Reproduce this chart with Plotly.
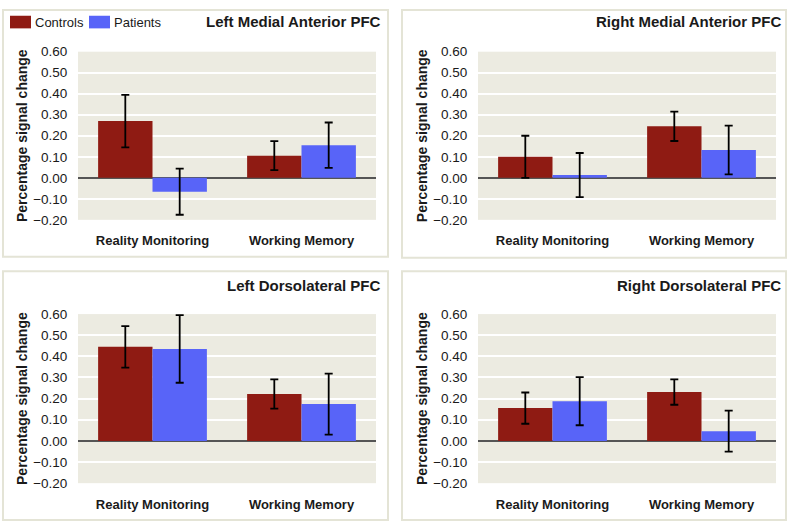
import plotly.graph_objects as go

W, H = 790, 531

categories = ["Reality Monitoring", "Working Memory"]
groups = ["Controls", "Patients"]
panel_titles = ["Left Medial Anterior PFC", "Right Medial Anterior PFC",
                "Left Dorsolateral PFC", "Right Dorsolateral PFC"]

controls_vals = [[0.27, 0.105], [0.10, 0.245], [0.445, 0.222], [0.155, 0.231]]
controls_err = [[0.125, 0.069], [0.10, 0.07], [0.098, 0.069], [0.074, 0.06]]
patients_vals = [[-0.066, 0.155], [0.013, 0.132], [0.435, 0.174], [0.188, 0.046]]
patients_err = [[0.11, 0.108], [0.105, 0.116], [0.16, 0.144], [0.114, 0.097]]

tick_vals = [-0.2, -0.1, 0.0, 0.1, 0.2, 0.3, 0.4, 0.5, 0.6]
y_title = "Percentage signal change"

ctrl_color = "#8f1b13"
pat_color = "#5864f8"
font_family = "Liberation Sans, Arial, sans-serif"
txt = "#1a1a1a"

def px(x):
    return x / W

def py(y):
    return 1 - y / H

# plot-area pixel boxes (x0, x1, ytop, ybottom)
boxes = [(78, 376, 46, 219), (478, 776, 46, 219),
         (78, 376, 316, 490), (478, 776, 316, 490)]
# panel frames
frames = [(3, 388, 3, 257), (402, 786, 3, 258),
          (3, 388, 272, 528), (402, 786, 272, 528)]
title_pos = [(383, 15), (783, 15), (383, 287), (783, 287)]

fig = go.Figure()
layout = {}
shapes = []
annotations = []

for i in range(4):
    sx = "" if i == 0 else str(i + 1)
    xa, ya = "x" + sx, "y" + sx
    fig.add_trace(go.Bar(
        x=categories, y=controls_vals[i], name=groups[0],
        marker=dict(color=ctrl_color, line=dict(width=0)),
        error_y=dict(type="data", array=controls_err[i], color="black",
                     thickness=1.8, width=4),
        offsetgroup="c", xaxis=xa, yaxis=ya, showlegend=False))
    fig.add_trace(go.Bar(
        x=categories, y=patients_vals[i], name=groups[1],
        marker=dict(color=pat_color, line=dict(width=0)),
        error_y=dict(type="data", array=patients_err[i], color="black",
                     thickness=1.8, width=4),
        offsetgroup="p", xaxis=xa, yaxis=ya, showlegend=False))
    x0, x1, yt, yb = boxes[i]
    layout["xaxis" + sx] = dict(
        domain=[px(x0), px(x1)], anchor=ya, showgrid=False,
        ticks="outside", ticklen=9, tickcolor="rgba(0,0,0,0)",
        tickfont=dict(size=13, family=font_family, color=txt, weight="bold"),
        showline=False, fixedrange=True)
    layout["yaxis" + sx] = dict(
        domain=[py(yb), py(yt)], anchor=xa, range=[-0.2, 0.6],
        tickvals=tick_vals, tickformat=".2f",
        showgrid=True, gridcolor="white", gridwidth=1.5,
        zeroline=True, zerolinecolor="#555555", zerolinewidth=1.6,
        ticks="outside", ticklen=7, tickcolor="rgba(0,0,0,0)",
        tickfont=dict(size=13.5, family=font_family, color=txt),
        title=dict(text=y_title, standoff=2,
                   font=dict(size=14, family=font_family, color=txt, weight="bold")),
        showline=False, fixedrange=True)
    fx0, fx1, fy0, fy1 = frames[i]
    shapes.append(dict(type="rect", xref="paper", yref="paper",
                       x0=px(fx0), x1=px(fx1), y0=py(fy1), y1=py(fy0),
                       line=dict(color="#e4e4d6", width=2), layer="below"))
    tx, ty = title_pos[i]
    annotations.append(dict(text=panel_titles[i], xref="paper", yref="paper",
                            x=px(tx), y=py(ty), xanchor="right", yanchor="middle",
                            showarrow=False,
                            font=dict(size=15, family=font_family, color=txt, weight="bold")))

# legend (custom, top-left panel)
legend_items = [(10, 31, ctrl_color, groups[0]), (89, 110, pat_color, groups[1])]
for lx0, lx1, col, name in legend_items:
    shapes.append(dict(type="rect", xref="paper", yref="paper",
                       x0=px(lx0), x1=px(lx1), y0=py(22), y1=py(9),
                       fillcolor=col, line=dict(width=0)))
    annotations.append(dict(text=name, xref="paper", yref="paper",
                            x=px(lx1 + 2), y=py(15.5), xanchor="left", yanchor="middle",
                            showarrow=False,
                            font=dict(size=13, family=font_family, color=txt)))

fig.update_layout(
    width=W, height=H, margin=dict(l=0, r=0, t=0, b=0),
    paper_bgcolor="white", plot_bgcolor="#ecebe1",
    barmode="group", bargap=0.27, bargroupgap=0,
    shapes=shapes, annotations=annotations, showlegend=False,
    font=dict(family=font_family, color=txt),
    **layout)

fig.write_html("out.html", config={"displayModeBar": False},
               post_script="document.body.style.margin='0';document.body.style.overflow='hidden';")
